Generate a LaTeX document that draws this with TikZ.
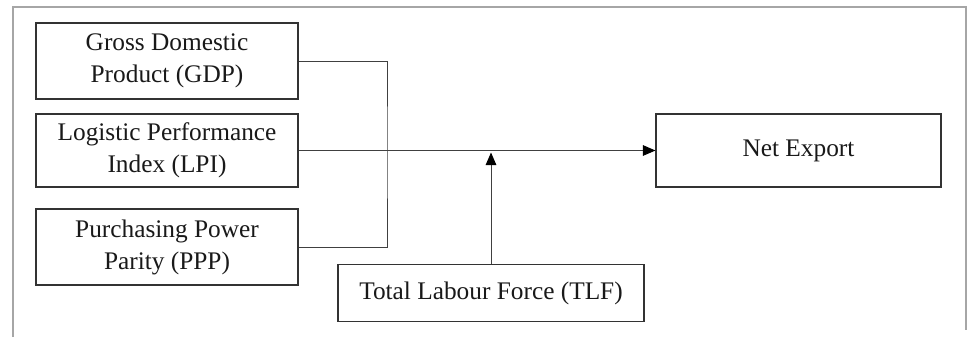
\documentclass[tikz,border=0pt]{standalone}
\usepackage{fontspec}
\setmainfont{Liberation Serif}
\usetikzlibrary{arrows.meta,calc}
\begin{document}
\begin{tikzpicture}[x=0.75pt,y=-0.75pt,
  box/.style={draw=black!80, line width=0.8pt, rectangle, inner sep=0pt, align=center,
    font=\fontsize{19}{24}\selectfont, text=black!90},
  conn/.style={draw=black!75, line width=0.75pt},
  tip/.style={-{Triangle[length=9.5pt,width=8pt,color=black]}}]
\useasboundingbox (0,0) rectangle (969,337);
% outer frame (open at bottom)
\draw[black!35, line width=0.8pt] (13,337) -- (13,7) -- (966,7) -- (966,330);
% nodes
\node[box, minimum width=262*0.75pt, minimum height=76*0.75pt] (gdp) at (167,61) {Gross Domestic\\Product (GDP)};
\node[box, minimum width=262*0.75pt, minimum height=73*0.75pt] (lpi) at (167,150.5) {Logistic Performance\\Index (LPI)};
\node[box, minimum width=262*0.75pt, minimum height=76*0.75pt] (ppp) at (167,247) {Purchasing Power\\Parity (PPP)};
\node[box, minimum width=306*0.75pt, minimum height=57*0.75pt] (tlf) at (491,293) {\raisebox{3pt}{Total Labour Force (TLF)}};
\node[box, minimum width=285*0.75pt, minimum height=73*0.75pt] (net) at (798.5,150.5) {\raisebox{4pt}{Net Export}};
% connectors
\coordinate (bend) at (387,150.5);
\draw[conn] (gdp.east) -| (bend) |- (ppp.east);
\draw[conn, tip] (lpi.east) -- (net.west);
\coordinate (meet) at (tlf.north |- lpi.east);
\draw[conn, tip, shorten >=1.5pt] (tlf.north) -- (meet);
\end{tikzpicture}
\end{document}
